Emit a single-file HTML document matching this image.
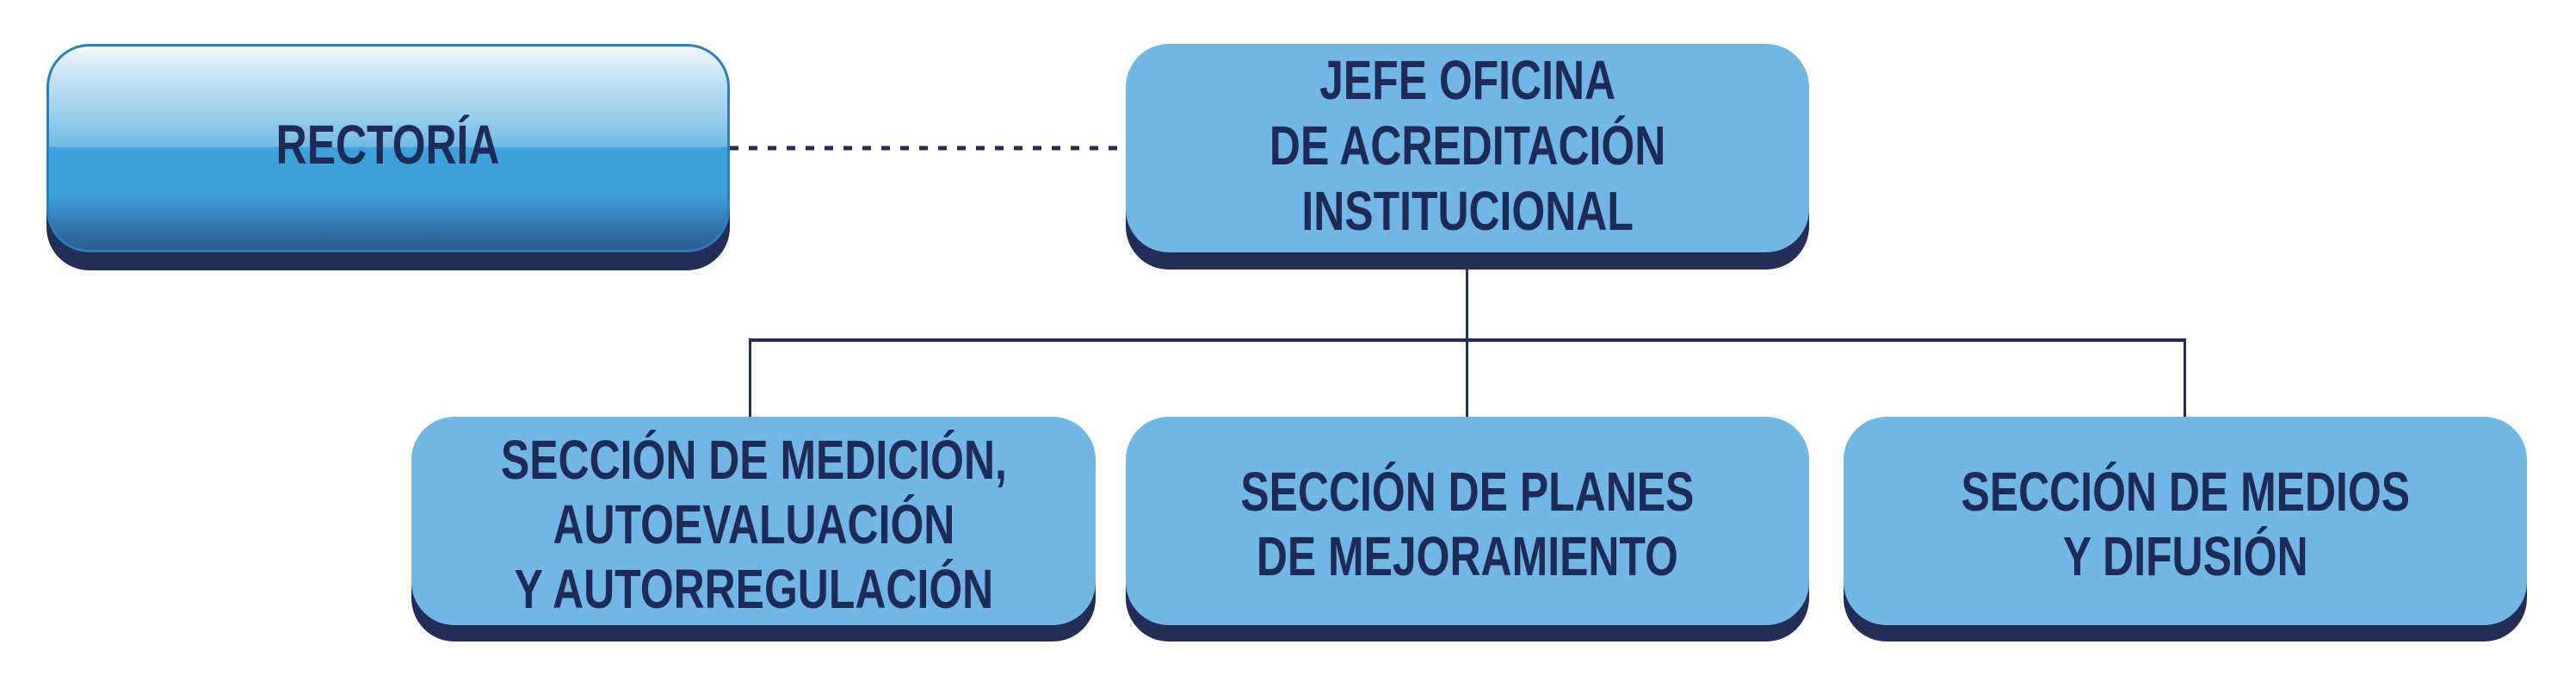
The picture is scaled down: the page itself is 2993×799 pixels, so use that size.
<!DOCTYPE html>
<html><head><meta charset="utf-8"><style>
html,body{margin:0;padding:0;background:#fff;}
body{width:2993px;height:799px;position:relative;overflow:hidden;font-family:"Liberation Sans",Arial,sans-serif;}
.box{position:absolute;border-radius:50px;}
.sh{background:#222d58;}
.face{background:#72b7e3;display:flex;align-items:center;justify-content:center;}
.t{color:#1f2b57;font-weight:bold;font-size:64px;line-height:76px;text-align:center;transform:scaleX(0.78);white-space:nowrap;}
.ln{position:absolute;background:#222d58;}
</style></head><body>
<svg style="position:absolute;left:0;top:0" width="2993" height="799">
<line x1="848" y1="172" x2="1308" y2="172" stroke="#222d58" stroke-width="5" stroke-dasharray="10 12"/>
</svg>
<div class="ln" style="left:1703px;top:300px;width:3px;height:190px"></div>
<div class="ln" style="left:870px;top:393px;width:1670px;height:4px"></div>
<div class="ln" style="left:870px;top:393px;width:3px;height:97px"></div>
<div class="ln" style="left:2537px;top:393px;width:3px;height:97px"></div>

<div class="box sh" style="left:54px;top:60px;width:794px;height:254px"></div>
<div class="box" style="left:54px;top:51px;width:794px;height:242px;border:3px solid #2a7fc1;box-sizing:border-box;background:linear-gradient(#f2f9fd 0%,#d8ecf8 8%,#a3d2ee 30%,#74bbe4 49%,#3fa1d9 50%,#3fa1d9 72%,#3580b8 85%,#2c5b8c 100%);display:flex;align-items:center;justify-content:center;">
<div class="t" style="margin-top:-8px">RECTORÍA</div></div>

<div class="box sh" style="left:1308px;top:60px;width:794px;height:253px"></div>
<div class="box face" style="left:1308px;top:51px;width:794px;height:242px"><div class="t" style="margin-top:-6px">JEFE OFICINA<br>DE ACREDITACIÓN<br>INSTITUCIONAL</div></div>

<div class="box sh" style="left:478px;top:493px;width:795px;height:252px"></div>
<div class="box face" style="left:478px;top:484px;width:795px;height:242px"><div class="t" style="margin-top:8px;line-height:75px">SECCIÓN DE MEDICIÓN,<br>AUTOEVALUACIÓN<br>Y AUTORREGULACIÓN</div></div>

<div class="box sh" style="left:1308px;top:493px;width:794px;height:252px"></div>
<div class="box face" style="left:1308px;top:484px;width:794px;height:242px"><div class="t" style="margin-top:8px;line-height:75px">SECCIÓN DE PLANES<br>DE MEJORAMIENTO</div></div>

<div class="box sh" style="left:2142px;top:493px;width:794px;height:252px"></div>
<div class="box face" style="left:2142px;top:484px;width:794px;height:242px"><div class="t" style="margin-top:8px;line-height:75px">SECCIÓN DE MEDIOS<br>Y DIFUSIÓN</div></div>
</body></html>
